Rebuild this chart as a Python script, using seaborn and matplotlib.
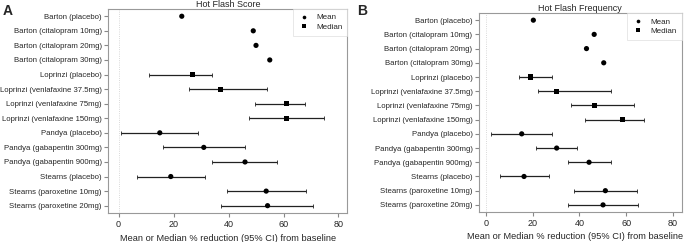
import numpy as np
import pandas as pd
import matplotlib
matplotlib.use("Agg")
import matplotlib.pyplot as plt
import seaborn as sns

# dados
estudos = ["Barton (placebo)", "Barton (citalopram 10mg)", "Barton (citalopram 20mg)",
           "Barton (citalopram 30mg)", "Loprinzi (placebo)", "Loprinzi (venlafaxine 37.5mg)",
           "Loprinzi (venlafaxine 75mg)", "Loprinzi (venlafaxine 150mg)", "Pandya (placebo)",
           "Pandya (gabapentin 300mg)", "Pandya (gabapentin 900mg)", "Stearns (placebo)",
           "Stearns (paroxetine 10mg)", "Stearns (paroxetine 20mg)"]
estatistica = ["Mean"] * 4 + ["Median"] * 4 + ["Mean"] * 6

nan = np.nan
score_est = [23, 49, 50, 55, 27, 37, 61, 61, 15, 31, 46, 19, 53.7, 54.2]
score_lo = [nan, nan, nan, nan, 10.9, 25.8, 49.7, 47.6, 0.9, 16.1, 34, 6.7, 39.6, 37.3]
score_hi = [nan, nan, nan, nan, 34, 54, 67.9, 74.8, 29, 46, 57.8, 31.4, 68.2, 70.9]

freq_est = [20.2, 46.3, 43, 50.4, 19.1, 30.2, 46.3, 58.4, 15.2, 30.2, 44.1, 16.2, 51.1, 50.1]
freq_lo = [nan, nan, nan, nan, 14.1, 22.4, 36.2, 42.3, 2.0, 21.2, 35.2, 5.7, 37.7, 35.2]
freq_hi = [nan, nan, nan, nan, 28.2, 53.7, 63.4, 67.5, 28.3, 39.1, 53.7, 26.9, 64.8, 65.1]

xticks = [0, 20, 40, 60, 80]
xlabel = "Mean or Median % reduction (95% CI) from baseline"

sns.set_style("white")
plt.rcParams['font.family'] = ['Liberation Sans', 'DejaVu Sans']

fig = plt.figure(figsize=(6.85, 2.42), dpi=100)
ax_a = fig.add_axes([0.158, 0.12, 0.349, 0.843])
ax_b = fig.add_axes([0.699, 0.124, 0.296, 0.822])


def painel(ax, est, lo, hi, titulo, xlim, xlab_pos):
    df = pd.DataFrame({"estudo": estudos, "stat": estatistica,
                       "est": est, "lo": lo, "hi": hi})
    df["y"] = np.arange(len(df))
    ax.axvline(0, color="#cccccc", lw=0.6, ls=":", zorder=0)
    ci = df.dropna(subset=["lo"])
    ax.errorbar(ci["est"], ci["y"], xerr=[ci["est"] - ci["lo"], ci["hi"] - ci["est"]],
                fmt="none", ecolor="#222222", elinewidth=0.9, capsize=1.5, capthick=0.6)
    sns.scatterplot(data=df, x="est", y="y", style="stat", markers={"Mean": "o", "Median": "s"},
                    style_order=["Mean", "Median"], color="black", s=14, edgecolor="black",
                    linewidth=0, ax=ax, zorder=3)
    ax.set_ylim(len(df) - 0.5, -0.5)
    ax.set_xlim(*xlim)
    ax.set_yticks(df["y"])
    ax.set_yticklabels(df["estudo"], fontsize=5.6)
    ax.set_xticks(xticks)
    ax.tick_params(axis="x", labelsize=6.5, length=3, color="#888888", pad=2)
    ax.tick_params(axis="y", length=3, color="#888888", pad=1.5)
    ax.tick_params(left=True, bottom=True)
    for s in ax.spines.values():
        s.set_color("#999999")
        s.set_linewidth(0.8)
    ax.set_ylabel("")
    ax.set_xlabel(xlabel, fontsize=6.7, labelpad=2)
    ax.xaxis.set_label_coords(xlab_pos, -0.103)
    ax.set_title(titulo, fontsize=6.5, pad=1.5)
    leg = ax.legend(loc="upper right", fontsize=5.8, frameon=True, fancybox=False,
                    borderaxespad=0, markerscale=0.7, handletextpad=0.8,
                    borderpad=0.6, labelspacing=0.25, handlelength=1.5)
    leg.get_frame().set_edgecolor("#dddddd")
    leg.get_frame().set_linewidth(0.6)


painel(ax_a, score_est, score_lo, score_hi, "Hot Flash Score", (-3.75, 83.2), 0.5)
painel(ax_b, freq_est, freq_lo, freq_hi, "Hot Flash Frequency", (-3.2, 83.8), 0.473)

fig.text(0.004, 0.985, "A", fontsize=10, fontweight="bold", va="top")
fig.text(0.522, 0.985, "B", fontsize=10, fontweight="bold", va="top")

fig.savefig("out.png", dpi=100)
